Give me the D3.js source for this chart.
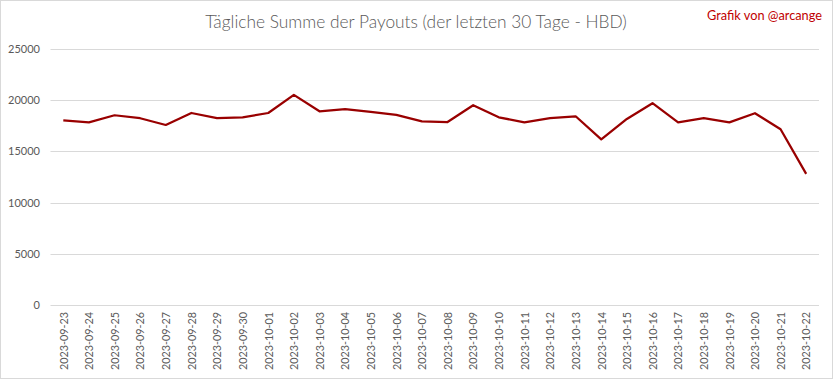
<!DOCTYPE html>
<html><head><meta charset="utf-8">
<script src="https://cdn.jsdelivr.net/npm/d3@7"></script>
<style>body{margin:0;background:#fff;}svg{display:block;}</style>
</head><body>
<svg id="c" width="833" height="379"></svg>
<script>
const dates = ["2023-09-23","2023-09-24","2023-09-25","2023-09-26","2023-09-27","2023-09-28","2023-09-29","2023-09-30","2023-10-01","2023-10-02","2023-10-03","2023-10-04","2023-10-05","2023-10-06","2023-10-07","2023-10-08","2023-10-09","2023-10-10","2023-10-11","2023-10-12","2023-10-13","2023-10-14","2023-10-15","2023-10-16","2023-10-17","2023-10-18","2023-10-19","2023-10-20","2023-10-21","2023-10-22"];
const payouts = [18040,17840,18530,18240,17580,18750,18240,18330,18750,20520,18920,19120,18850,18560,17940,17870,19510,18330,17840,18240,18430,16180,18170,19710,17840,18240,17840,18730,17160,12810];
const yTicks = [0,5000,10000,15000,20000,25000];
const titleText = "Tägliche Summe der Payouts (der letzten 30 Tage - HBD)";
const creditText = "Grafik von @arcange";

const svg = d3.select("#c");
const W = 833, H = 379;
const FONT = "Lato, 'Open Sans', sans-serif";
svg.append("rect").attr("x",0.5).attr("y",0.5).attr("width",W-1).attr("height",H-1)
  .attr("fill","#fff").attr("stroke","#d9d9d9");

const plot = {left:50.5, right:819, top:49, bottom:305};
const x = d3.scalePoint().domain(dates).range([plot.left, plot.right]).padding(0.5);
const y = d3.scaleLinear().domain([0,25000]).range([plot.bottom, plot.top]);

// gridlines
svg.append("g").selectAll("line").data(yTicks).join("line")
  .attr("x1",plot.left).attr("x2",plot.right)
  .attr("y1",d=>Math.round(y(d))+0.5).attr("y2",d=>Math.round(y(d))+0.5)
  .attr("stroke","#d9d9d9").attr("stroke-width",1);

// y axis labels
const yAxis = d3.axisLeft(y).tickValues(yTicks).tickSize(0).tickPadding(0).tickFormat(d3.format("d"));
const gy = svg.append("g").attr("transform",`translate(40,0)`).call(yAxis);
gy.select(".domain").remove();
gy.selectAll("text").attr("fill","#595959").style("font-family",FONT).style("font-size","11px");

// x axis labels
const xAxis = d3.axisBottom(x).tickSize(0).tickPadding(0);
const gx = svg.append("g").attr("transform",`translate(0,${plot.bottom})`).call(xAxis);
gx.select(".domain").remove();
gx.selectAll("text").attr("fill","#595959").style("font-family",FONT).style("font-size","11px")
  .attr("transform","rotate(-90)").attr("text-anchor","end").attr("x",-7).attr("y",0).attr("dy","0.35em");
// fit label length to ~58px
gx.selectAll("text").each(function(){
  const l = this.getComputedTextLength();
  const fs = 11*58/l;
  d3.select(this).style("font-size",fs+"px");
});

// line
const line = d3.line().x((d,i)=>x(dates[i])).y(d=>y(d));
svg.append("path").datum(payouts).attr("d",line).attr("fill","none")
  .attr("stroke","#990000").attr("stroke-width",2.25).attr("stroke-linejoin","round");

// title
const t = svg.append("text").attr("x",416).attr("y",28).attr("text-anchor","middle")
  .attr("fill","#595959").style("font-family",FONT).style("font-weight",300).style("font-size","17px").text(titleText);
const tl = t.node().getComputedTextLength();
t.style("font-size",(17*422/tl)+"px");

const c = svg.append("text").attr("x",822).attr("y",20).attr("text-anchor","end")
  .attr("fill","#c00000").style("font-family",FONT).style("font-size","12px").text(creditText);
const cl = c.node().getComputedTextLength();
c.style("font-size",(12*115/cl)+"px");
</script>
</body></html>
